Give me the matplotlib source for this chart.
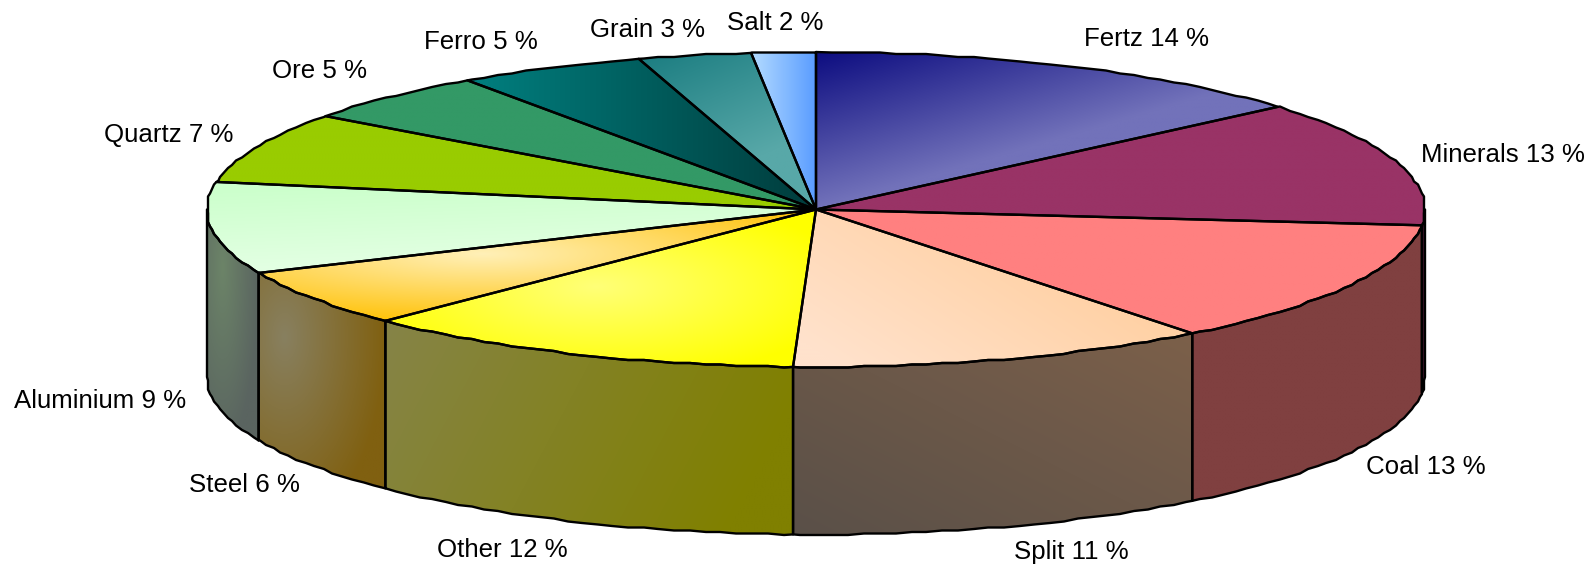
import numpy as np
import matplotlib
matplotlib.use("Agg")
import matplotlib.pyplot as plt
from matplotlib.colors import to_rgb
from matplotlib.patches import Polygon

plt.rcParams['font.family'] = ['Liberation Sans', 'DejaVu Sans']

# values, clockwise from 12 o'clock
names = ["Fertz", "Minerals", "Coal", "Split", "Other", "Steel",
         "Aluminium", "Quartz", "Ore", "Ferro", "Grain", "Salt"]
values = [13.7, 12.9, 12.8, 11.2, 11.9, 5.9, 9.4, 7.3, 5.2, 5.0, 3.0, 1.7]

# 5 items: (start colour, end colour, dx, dy, offset) - t = dx*u + dy*v + offset in the slice bbox
# 6 items: (centre colour, outer colour, pu, pv, su, sv) - elliptic blend round a bright spot
top_fill = [("#0c0c80", "#7272ba", 0.85, 1, 0),
            ("#993366", "#993366", 0, 0, 0),
            ("#ff8080", "#ff8080", 0, 0, 0),
            ("#ffe2cc", "#ffcc99", 0.8, -0.5, 0.4),
            ("#ffff78", "#ffff00", 0.49, 0.49, 0.6, 0.6),
            ("#fff0b8", "#ffc000", 0.4, 0.4, 0.75, 0.65),
            ("#ccffcc", "#e6ffe6", 0.2, 1, -0.1),
            ("#99cc00", "#99cc00", 0, 0, 0),
            ("#339966", "#339966", 0, 0, 0),
            ("#008080", "#003c3c", 1, 0, 0),
            ("#1a7c80", "#58a8a8", 0.5, 1, 0),
            ("#b4dcff", "#5a9cff", 1, 0, 0)]
side_fill = [("#4d1933", "#4d1933", 0, 0, 0),
             ("#4d1933", "#4d1933", 0, 0, 0),
             ("#804040", "#804040", 0, 0, 0),
             ("#7c604a", "#5a5048", -0.5, 0.5, 0.5),
             ("#868448", "#808000", 0.9, 0.25, 0),
             ("#888060", "#806010", 0.2, 0.3, 0.8, 0.9),
             ("#6c8468", "#5a6460", 0.3, 0.25, 0.7, 0.8),
             ]
label_pos = [(1147, 39), (1503, 155), (1426, 467), (1071, 552), (502, 550), (244, 485),
             (100, 401), (169, 135), (320, 71), (481, 42), (647, 30), (775, 23)]

cx, cy = 816, 209.5
rx, ry = 609, 157.5
depth = 167.5


def rim(t0, t1):
    # outline of the ellipse, coarse rounding so it wobbles a little like the original
    grid = np.arange(0, 361, 1.5)
    ts = [t0] + [g for g in grid if t0 < g < t1] + [t1]
    pts = []
    for t in ts:
        x = cx + rx * np.sin(np.radians(t))
        y = cy - ry * np.cos(np.radians(t))
        if t != t0 and t != t1:
            x = np.round(x / 2) * 2
            y = np.round(y / 1.5) * 1.5
        pts.append((x, y))
    return pts


def gradient(ax, poly, fill):
    xs = [p[0] for p in poly]
    ys = [p[1] for p in poly]
    x0, x1, y0, y1 = min(xs), max(xs), min(ys), max(ys)
    u, v = np.meshgrid(np.linspace(0, 1, 200), np.linspace(0, 1, 200))
    if len(fill) == 6:
        c0, c1, pu, pv, su, sv = fill
        t = np.hypot((u - pu) / su, (v - pv) / sv)
    else:
        c0, c1, dx, dy, off = fill
        t = dx * u + dy * v + off
    t = np.clip(t, 0, 1)[..., None]
    img = np.array(to_rgb(c0)) * (1 - t) + np.array(to_rgb(c1)) * t
    im = ax.imshow(img, extent=(x0, x1, y1, y0), aspect='auto', zorder=2, interpolation='bilinear')
    patch = Polygon(poly, closed=True, facecolor='none', edgecolor='black', lw=1.7,
                    joinstyle='round', zorder=3)
    ax.add_patch(patch)
    im.set_clip_path(patch)


fig = plt.figure(figsize=(15.93, 5.68), dpi=100)
ax = fig.add_axes([0, 0, 1, 1])

angles = np.concatenate([[0], np.cumsum(values)]) / np.sum(values) * 360

# side wall first, only the part facing us (90 to 270 degrees)
for i in range(len(side_fill)):
    t0 = max(angles[i], 90)
    t1 = min(angles[i + 1], 270)
    if t1 <= t0:
        continue
    upper = rim(t0, t1)
    lower = [(x, y + depth) for x, y in upper][::-1]
    gradient(ax, upper + lower, side_fill[i])

# top of the pie
for i in range(len(values)):
    poly = [(cx, cy)] + rim(angles[i], angles[i + 1])
    gradient(ax, poly, top_fill[i])

for name, val, pos in zip(names, values, label_pos):
    ax.text(pos[0], pos[1], "%s %d %%" % (name, round(val)), fontsize=18.6,
            ha='center', va='center', color='black', zorder=5)

ax.set_xlim(0, 1593)
ax.set_ylim(568, 0)
ax.axis('off')
fig.savefig("out.png", dpi=100, facecolor='white')
